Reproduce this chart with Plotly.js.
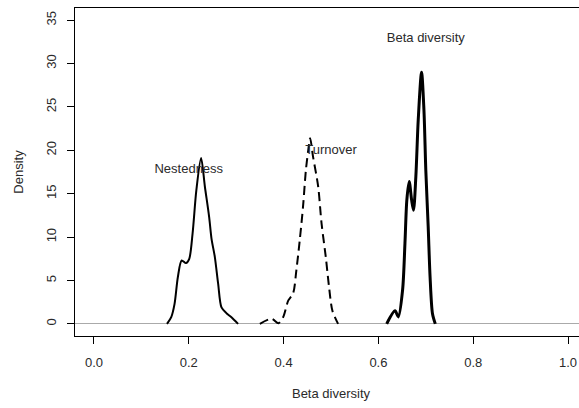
<!DOCTYPE html>
<html>
<head>
<meta charset="utf-8">
<script src="https://cdn.plot.ly/plotly-3.0.1.min.js"></script>
<style>
  html, body { margin: 0; padding: 0; background: #fff; overflow: hidden; }
  #chart { width: 600px; height: 408px; }
</style>
</head>
<body>
<div id="chart"></div>
<script>
// Kernel density estimates of the three beta-diversity components
const nestX = [0.154, 0.163, 0.170, 0.177, 0.185, 0.194, 0.201, 0.208, 0.216, 0.226, 0.234, 0.243, 0.248, 0.255, 0.262, 0.269, 0.280, 0.290, 0.304];
const nestY = [0.0, 0.77, 2.3, 5.4, 7.3, 7.0, 7.5, 10.4, 15.4, 19.1, 15.8, 12.3, 9.8, 7.7, 4.6, 1.9, 1.2, 0.77, 0.0];

const turnX = [0.350, 0.375, 0.389, 0.399, 0.410, 0.420, 0.427, 0.434, 0.441, 0.447, 0.452, 0.456, 0.462, 0.473, 0.480, 0.489, 0.496, 0.503, 0.515];
const turnY = [0.0, 0.58, 0.07, 0.77, 2.7, 3.5, 6.2, 9.6, 13.5, 17.7, 20.0, 21.4, 19.3, 15.8, 11.6, 7.7, 4.2, 1.5, 0.0];

const betaX = [0.6175, 0.635, 0.642, 0.651, 0.656, 0.660, 0.665, 0.670, 0.674, 0.679, 0.684, 0.691, 0.696, 0.700, 0.705, 0.709, 0.714, 0.720];
const betaY = [0.0, 1.5, 0.8, 3.9, 9.3, 14.3, 16.4, 14.3, 13.1, 17.0, 23.5, 29.0, 24.7, 17.7, 11.2, 5.4, 1.2, 0.0];

// Curve labels
const labelText = ["Nestedness", "Turnover", "Beta diversity"];
const labelX = [0.2, 0.5, 0.7];
const labelY = [17.8, 19.9, 32.9];

const xTicks = [0, 0.2, 0.4, 0.6, 0.8, 1.0];
const xTickText = ["0.0", "0.2", "0.4", "0.6", "0.8", "1.0"];
const yTicks = [0, 5, 10, 15, 20, 25, 30, 35];

const font = { family: "Liberation Sans, Arial, sans-serif", size: 13, color: "#2a2a2a" };

const traces = [
  { x: nestX, y: nestY, mode: "lines", line: { color: "#000", width: 2, shape: "spline", smoothing: 0.8 }, hoverinfo: "skip" },
  { x: turnX, y: turnY, mode: "lines", line: { color: "#000", width: 2, dash: "9px,5px", shape: "spline", smoothing: 0.8 }, hoverinfo: "skip" },
  { x: betaX, y: betaY, mode: "lines", line: { color: "#000", width: 3, shape: "spline", smoothing: 0.8 }, hoverinfo: "skip" },
  { x: labelX, y: labelY, mode: "text", text: labelText, textfont: font, textposition: "middle center", hoverinfo: "skip" }
];

const layout = {
  width: 600,
  height: 408,
  margin: { l: 75, r: 13, t: 8, b: 72 },
  paper_bgcolor: "#fff",
  plot_bgcolor: "#fff",
  showlegend: false,
  font: font,
  xaxis: {
    range: [-0.04, 1.04],
    tickvals: xTicks,
    ticktext: xTickText,
    ticks: "outside",
    ticklen: 7,
    tickcolor: "#000",
    tickwidth: 1,
    ticklabelstandoff: 7,
    showgrid: false,
    zeroline: false,
    showline: true,
    linecolor: "#000",
    linewidth: 1,
    mirror: true,
    tickfont: font,
    title: { text: "Beta diversity", font: font, standoff: 20 }
  },
  yaxis: {
    range: [-1.4, 36.4],
    tickvals: yTicks,
    ticks: "outside",
    ticklen: 7,
    tickcolor: "#000",
    tickwidth: 1,
    tickangle: -90,
    ticklabelstandoff: 6,
    showgrid: false,
    zeroline: true,
    zerolinecolor: "#aaa",
    zerolinewidth: 1,
    showline: true,
    linecolor: "#000",
    linewidth: 1,
    mirror: true,
    tickfont: font,
    title: { text: "Density", font: font, standoff: 17 }
  }
};

Plotly.newPlot("chart", traces, layout, { staticPlot: true, displayModeBar: false });
</script>
</body>
</html>
